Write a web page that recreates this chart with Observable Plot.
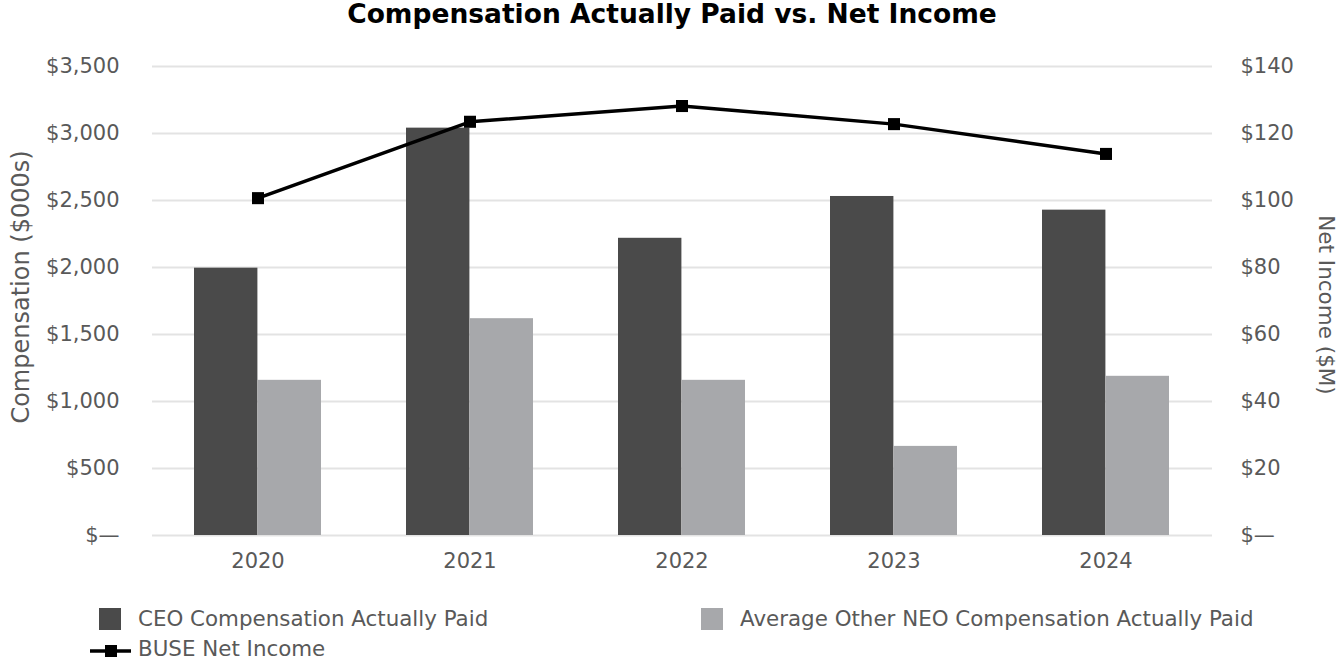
<!DOCTYPE html>
<html>
<head>
<meta charset="utf-8">
<script src="https://cdn.jsdelivr.net/npm/d3@7"></script>
<script src="https://cdn.jsdelivr.net/npm/@observablehq/plot@0.6"></script>
<style>
  html, body { margin: 0; padding: 0; background: #fff; }
  body { width: 1344px; height: 672px; position: relative; font-family: "DejaVu Sans", Verdana, sans-serif; overflow: hidden; }
  #title { position: absolute; left: 0; top: -1px; width: 1344px; height: 34px; text-align: center; font-weight: bold; font-size: 26.5px; line-height: 30px; color: #000; }
  #chart { position: absolute; left: 0; top: 34px; }
  .leg { position: absolute; font-size: 21.4px; color: #595959; line-height: 24px; white-space: nowrap; }
  .sw { position: absolute; width: 22px; height: 22px; }
</style>
</head>
<body>
<div id="title"></div>
<div id="chart"></div>
<div id="legend"></div>
<script>
const titleText = "Compensation Actually Paid vs. Net Income";
const years = ["2020", "2021", "2022", "2023", "2024"];
const ceoComp = [1995, 3040, 2218, 2530, 2428];
const neoComp = [1158, 1618, 1158, 665, 1188];
const netIncome = [100.7, 123.5, 128.2, 122.8, 113.9];
const seriesNames = ["CEO Compensation Actually Paid", "Average Other NEO Compensation Actually Paid", "BUSE Net Income"];
const leftTicks = [0, 500, 1000, 1500, 2000, 2500, 3000, 3500];
const rightTicks = [0, 20, 40, 60, 80, 100, 120, 140];
const leftLabel = "Compensation ($000s)";
const rightLabel = "Net Income ($M)";

const leftMax = 3500, rightMax = 140;
const k = leftMax / rightMax;

const colors = {ceo: "#4a4a4a", neo: "#a7a8ab", line: "#000000", grid: "#e3e3e3", text: "#595959"};

const bars = years.map((y, i) => ({year: y, ceo: ceoComp[i], neo: neoComp[i], ni: netIncome[i]}));

document.getElementById("title").textContent = titleText;

const W = 1344, H = 556;
const mL = 152, mR = 132, mT = 32, mB = 55;
const step = (W - mL - mR) / years.length;
const halfBand = step * 0.6 / 2;

const fmtL = d => d === 0 ? "$\u2014" : "$" + d3.format(",")(d);
const fmtR = d => d === 0 ? "$\u2014" : "$" + d3.format(",")(d / k);

const chart = Plot.plot({
  width: W, height: H,
  marginLeft: mL, marginRight: mR, marginTop: mT, marginBottom: mB,
  style: {fontFamily: "DejaVu Sans, Verdana, sans-serif", fontSize: "21px", color: colors.text, background: "#fff"},
  x: {type: "band", domain: years, paddingInner: 0.4, paddingOuter: 0.2, label: null},
  y: {domain: [0, leftMax], label: null},
  marks: [
    Plot.ruleY(leftTicks, {stroke: colors.grid, strokeWidth: 2}),
    Plot.barY(bars, {x: "year", y: "ceo", fill: colors.ceo, insetRight: halfBand}),
    Plot.barY(bars, {x: "year", y: "neo", fill: colors.neo, insetLeft: halfBand}),
    Plot.lineY(bars, {x: "year", y: d => d.ni * k, stroke: colors.line, strokeWidth: 3.5}),
    Plot.dot(bars, {x: "year", y: d => d.ni * k, symbol: "square", r: 6.8, fill: colors.line, stroke: null}),
    Plot.axisY(leftTicks, {anchor: "left", tickFormat: fmtL, tickSize: 0, tickPadding: 33, label: null, fontSize: 21}),
    Plot.axisY(rightTicks.map(d => d * k), {anchor: "right", tickFormat: fmtR, tickSize: 0, tickPadding: 28, label: null, fontSize: 21, textAnchor: "start"}),
    Plot.axisX({tickSize: 0, tickPadding: 18, label: null, fontSize: 21}),
    Plot.text([leftLabel], {frameAnchor: "left", textAnchor: "middle", rotate: -90, dx: -(mL - 21), dy: -14, fontSize: 24, fill: colors.text}),
    Plot.text([rightLabel], {frameAnchor: "right", textAnchor: "middle", rotate: 90, dx: 113, dy: 4, fontSize: 21.5, fill: colors.text})
  ]
});
document.getElementById("chart").appendChild(chart);

// Legend
const leg = document.getElementById("legend");
function addSwatch(x, y, color) {
  const s = document.createElement("div");
  s.className = "sw";
  s.style.left = x + "px"; s.style.top = y + "px"; s.style.background = color;
  leg.appendChild(s);
}
function addText(x, cy, t) {
  const d = document.createElement("div");
  d.className = "leg";
  d.style.left = x + "px"; d.style.top = (cy - 12) + "px";
  d.textContent = t;
  leg.appendChild(d);
}
addSwatch(99, 608, colors.ceo);
addText(138, 619, seriesNames[0]);
addSwatch(701, 608, colors.neo);
addText(740, 619, seriesNames[1]);
// line legend
const ln = document.createElementNS("http://www.w3.org/2000/svg", "svg");
ln.setAttribute("width", 44); ln.setAttribute("height", 20);
ln.style.position = "absolute"; ln.style.left = "89px"; ln.style.top = "641px";
ln.innerHTML = `<line x1="1" y1="10" x2="42" y2="10" stroke="${colors.line}" stroke-width="3.5"/><rect x="16" y="4" width="12" height="12" fill="${colors.line}"/>`;
leg.appendChild(ln);
addText(138, 649, seriesNames[2]);
</script>
</body>
</html>
